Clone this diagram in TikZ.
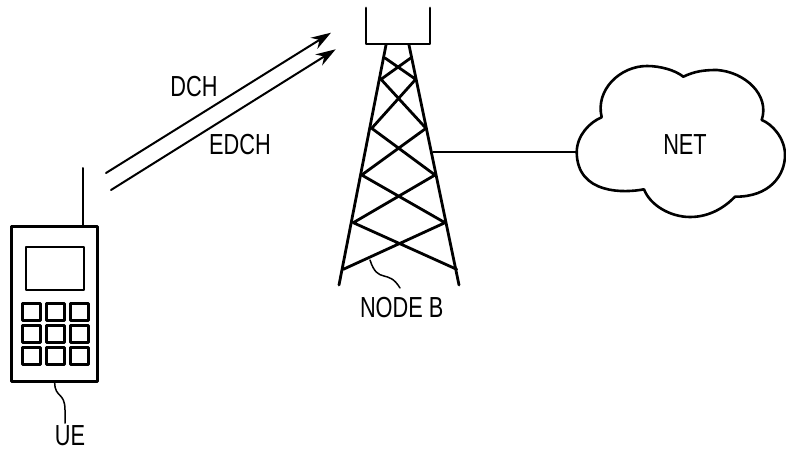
\documentclass[tikz,border=0pt]{standalone}
\usepackage{fontspec}
\setmainfont{Liberation Sans}
\usetikzlibrary{arrows.meta}
\tikzset{
lbl/.style={font=\fontsize{29}{29}\selectfont,xscale=.75,inner sep=0pt},
keybox/.style={draw,line width=3pt,minimum width=18pt,minimum height=17pt,inner sep=0pt},
}
\begin{document}
\begin{tikzpicture}[x=1pt,y=-1pt,>={Stealth[length=20pt,width=13pt]},line join=round,line cap=round]
\useasboundingbox (0,0) rectangle (786,452);
%phone
\node[draw,line width=2.8pt,minimum width=86pt,minimum height=155pt,inner sep=0pt](phone) at (54.7,304){};
\node[draw,line width=2.8pt,minimum width=58pt,minimum height=43pt,inner sep=0pt](screen) at (55,268.5){};
\foreach \i/\xx in {1/31,2/55,3/79}
\foreach \j/\yy in {1/311.5,2/333.5,3/356}
\node[keybox](key\i\j) at (\xx,\yy){};
\coordinate (aerial) at (82.7,168);
\draw[line width=2pt] (aerial)--(aerial|-phone.north);
\node[lbl](uelabel) at (70,436){UE};
\draw[line width=1.5pt] (phone.south) .. controls (55,398) and (65,392) .. (65,410) -- (65,423);
%links
\coordinate (dchstart) at (106,173);
\coordinate (dchend) at (331,32.7);
\coordinate (edchstart) at (111,190);
\coordinate (edchend) at (335.7,49.3);
\draw[->,line width=2pt] (dchstart)--(dchend);
\draw[->,line width=2pt] (edchstart)--(edchend);
\node[lbl](dch) at (194,87){DCH};
\node[lbl](edch) at (240,145){EDCH};
%tower
\begin{scope}[line width=2.8pt]
\draw (366,8)--(366,44)--(430,44)--(430,8);
\draw (386,45)--(339,285);
\draw (409,45)--(459,285);
\draw (385,58)--(415.7,79.3)
(410.7,58)--(381,79.3)
(381,79.3)--(426,128.3)
(415.7,79.3)--(371.7,128.3)
(371.7,128.3)--(435,175)
(426,128.3)--(361.7,175)
(361.7,175)--(445,222.7)
(435,175)--(353.3,222.7)
(353.3,222.7)--(456.7,269.3)
(445,222.7)--(343.3,269.3);
\end{scope}
\coordinate (towerside) at (433,152);
\node[lbl](nodeb) at (401.7,308){NODE B};
\draw[line width=1.5pt] (370,260) .. controls (378,285) and (388,268) .. (400,288);
%cloud
\draw[line width=2.6pt] (601.7,117.3) .. controls (595,90) and (620,66) .. (647,66)
.. controls (660,66) and (675,70) .. (683.3,76.7)
.. controls (695,71) and (705,70) .. (717,70)
.. controls (745,72) and (770,95) .. (761.7,120)
.. controls (772,124) and (785,138) .. (785,155)
.. controls (785,175) and (770,197) .. (735,196.7)
.. controls (725,207) and (710,217) .. (690,217)
.. controls (670,217) and (650,205) .. (644,189.3)
.. controls (625,193) and (577,195) .. (576.7,152)
.. controls (577,135) and (590,122) .. (601.7,117.3);
\coordinate (cloudside) at (576.7,152);
\node[lbl](net) at (685,145){NET};
\draw[line width=1.7pt] (towerside)--(cloudside);
\end{tikzpicture}
\end{document}
